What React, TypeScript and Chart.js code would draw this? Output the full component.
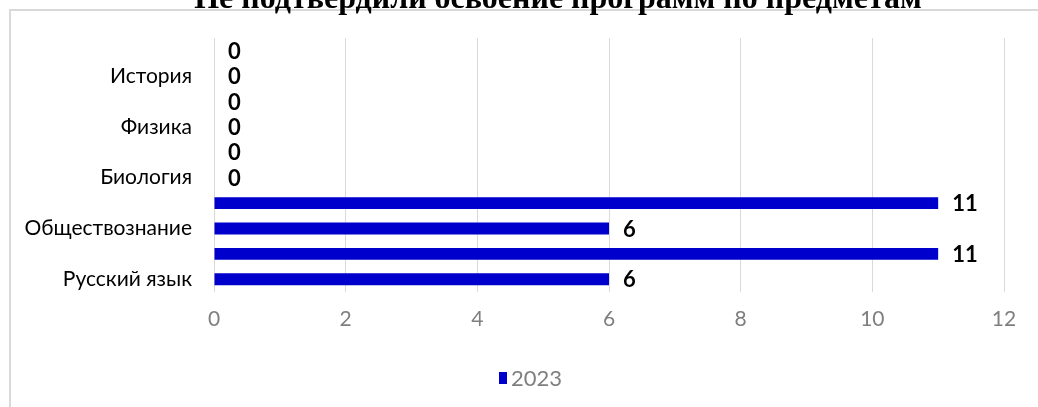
import React, { useEffect, useRef } from "react";
import { Chart, registerables } from "chart.js";

Chart.register(...registerables);

const titleText = "Не подтвердили освоение программ по предметам";
const categories = ["", "История", "", "Физика", "", "Биология", "", "Обществознание", "", "Русский язык"];
const values2023 = [0, 0, 0, 0, 0, 0, 11, 6, 11, 6];
const seriesName = "2023";
const xTicks = [0, 2, 4, 6, 8, 10, 12];

const barColor = "#0000CC";
const gridColor = "#d9d9d9";
const tickColor = "#7f7f7f";
const FONT = "Lato, 'Noto Sans', 'DejaVu Sans', sans-serif";

const framePlugin = {
  id: "frame",
  beforeDraw(chart: any) {
    const ctx = chart.ctx;
    ctx.save();
    ctx.strokeStyle = gridColor;
    ctx.lineWidth = 2;
    ctx.strokeRect(10, 10, 2000, 2000);
    ctx.restore();
  },
  afterDraw(chart: any) {
    const ctx = chart.ctx;
    ctx.save();
    ctx.fillStyle = "#000";
    ctx.font = "bold 32px 'Liberation Serif', 'Times New Roman', serif";
    ctx.textAlign = "center";
    ctx.textBaseline = "alphabetic";
    ctx.fillText(titleText, 558, 8);
    // legend
    const ds = chart.data.datasets[0];
    ctx.fillStyle = ds.backgroundColor;
    ctx.fillRect(499, 372, 8, 12);
    ctx.fillStyle = tickColor;
    ctx.font = `22px ${FONT}`;
    ctx.textAlign = "left";
    ctx.textBaseline = "middle";
    ctx.fillText(ds.label, 511, 379);
    ctx.restore();
  },
};

const labelPlugin = {
  id: "valueLabels",
  afterDatasetsDraw(chart: any) {
    const ctx = chart.ctx;
    ctx.save();
    ctx.fillStyle = "#000";
    ctx.font = `bold 22px ${FONT}`;
    ctx.textAlign = "left";
    ctx.textBaseline = "middle";
    chart.data.datasets.forEach((ds: any, di: number) => {
      const meta = chart.getDatasetMeta(di);
      meta.data.forEach((el: any, i: number) => {
        ctx.fillText(String(ds.data[i]), el.x + 14, el.y + 1);
      });
    });
    ctx.restore();
  },
};

export default function App() {
  const ref = useRef<HTMLCanvasElement | null>(null);
  useEffect(() => {
    if (!ref.current) return;
    const chart = new Chart(ref.current, {
      type: "bar",
      data: {
        labels: categories,
        datasets: [
          {
            label: seriesName,
            data: values2023,
            backgroundColor: barColor,
            borderWidth: 0,
            barPercentage: 0.47,
            categoryPercentage: 1,
          },
        ],
      },
      options: {
        indexAxis: "y",
        animation: false,
        responsive: true,
        maintainAspectRatio: false,
        layout: { padding: { top: 38, right: 34, left: 0, bottom: 46 } },
        plugins: {
          title: { display: false },
          tooltip: { enabled: false },
          legend: { display: false },
        },
        scales: {
          x: {
            min: 0,
            max: 12,
            afterBuildTicks: (s: any) => {
              s.ticks = xTicks.map((v) => ({ value: v }));
            },
            afterFit: (s: any) => {
              s.height = 69;
            },
            grid: { color: gridColor, lineWidth: 1, drawTicks: false },
            border: { display: false },
            ticks: {
              color: tickColor,
              padding: 15,
              font: { family: FONT, size: 21 },
            },
          },
          y: {
            afterFit: (s: any) => {
              s.width = 214;
            },
            grid: { display: false, drawTicks: false },
            border: { display: false },
            ticks: {
              autoSkip: false,
              color: "#000",
              padding: 22,
              font: { family: FONT, size: 21 },
            },
          },
        },
      },
      plugins: [framePlugin, labelPlugin],
    });
    return () => chart.destroy();
  }, []);
  return (
    <div style={{ position: "absolute", left: 0, top: 0, width: 1038, height: 407 }}>
      <canvas ref={ref} />
    </div>
  );
}
